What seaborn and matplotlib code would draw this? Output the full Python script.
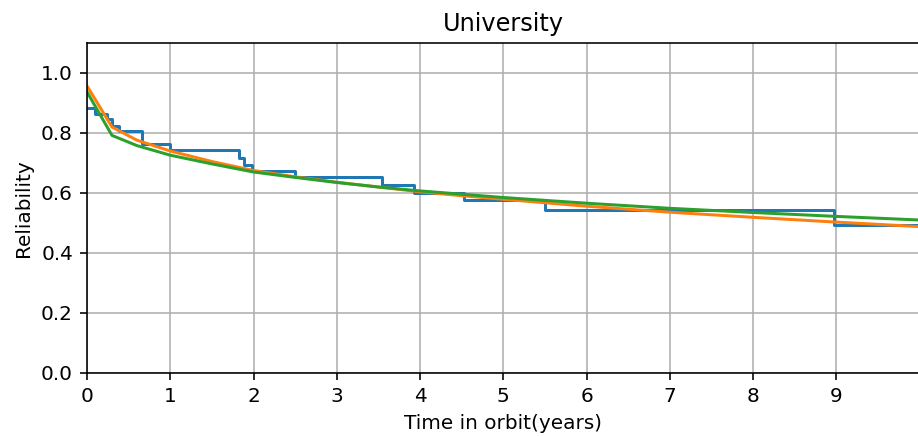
import matplotlib
matplotlib.use("Agg")
import matplotlib.pyplot as plt
import seaborn as sns
import pandas as pd

# Kaplan-Meier estimate (step function, value after each event time)
km_time = [0.0, 0.10, 0.24, 0.30, 0.38, 0.66, 1.00, 1.82, 1.89, 1.98, 2.50,
           3.54, 3.93, 4.53, 5.50, 8.97, 10.0]
km_rel = [0.882, 0.862, 0.847, 0.825, 0.808, 0.764, 0.744, 0.718, 0.695,
          0.675, 0.652, 0.627, 0.600, 0.578, 0.545, 0.492, 0.492]

# Fitted reliability curves
fit_time = [0.0, 0.3, 0.6, 1.0, 1.5, 2.0, 2.5, 3.0, 3.5, 4.0, 4.5, 5.0,
            6.0, 7.0, 8.0, 9.0, 10.0]
fit_a = [0.957, 0.820, 0.776, 0.740, 0.705, 0.675, 0.654, 0.636, 0.620,
         0.604, 0.591, 0.579, 0.556, 0.536, 0.519, 0.503, 0.488]
fit_b = [0.937, 0.792, 0.758, 0.726, 0.697, 0.670, 0.652, 0.635, 0.620,
         0.607, 0.596, 0.585, 0.566, 0.549, 0.535, 0.522, 0.510]

x_ticks = [0, 1, 2, 3, 4, 5, 6, 7, 8, 9]
y_ticks = [0.0, 0.2, 0.4, 0.6, 0.8, 1.0]

km = pd.DataFrame({"t": km_time, "r": km_rel})
fits = pd.DataFrame({"t": fit_time, "a": fit_a, "b": fit_b})

DPI = 144
fig = plt.figure(figsize=(918 / DPI, 436 / DPI), dpi=DPI)
# the axes run slightly past the right edge of the canvas
ax = fig.add_axes([87 / 918, 63 / 436, 832.5 / 918, 330 / 436])

sns.lineplot(data=km, x="t", y="r", ax=ax, color="#1f77b4", linewidth=1.5,
             drawstyle="steps-post", estimator=None, sort=False)
sns.lineplot(data=fits, x="t", y="a", ax=ax, color="#ff7f0e", linewidth=1.5,
             estimator=None, sort=False)
sns.lineplot(data=fits, x="t", y="b", ax=ax, color="#2ca02c", linewidth=1.5,
             estimator=None, sort=False)

ax.set_xlim(0, 10)
ax.set_ylim(0, 1.1)
ax.set_xticks(x_ticks)
ax.set_yticks(y_ticks)
ax.grid(True, color="#b0b0b0", linewidth=0.8)
ax.set_axisbelow(True)
ax.set_title("University", fontsize=12)
ax.set_xlabel("Time in orbit(years)", fontsize=10)
ax.set_ylabel("Reliability", fontsize=10)
ax.tick_params(labelsize=10)

fig.savefig("out.png", dpi=DPI)
